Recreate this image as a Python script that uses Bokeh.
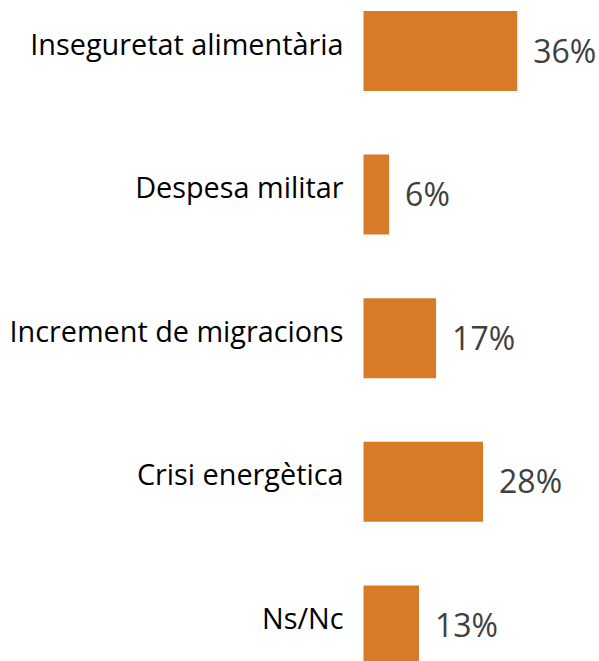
from bokeh.plotting import figure
from bokeh.models import Range1d, ColumnDataSource
from bokeh.core.properties import value
from bokeh.embed import file_html
from bokeh.resources import INLINE

categories = ["Inseguretat alimentària", "Despesa militar", "Increment de migracions",
              "Crisi energètica", "Ns/Nc"]
values = [36, 6, 17, 28, 13]
value_labels = ["36%", "6%", "17%", "28%", "13%"]

positions = list(range(len(categories)))
src = ColumnDataSource(dict(y=positions, v=values, cat=categories, lab=value_labels,
                            zero=[0] * len(categories)))

PX_PER_UNIT = 4.27
W, H = 599, 661
LEFT = 363
x0 = -LEFT / PX_PER_UNIT
x1 = (W - LEFT) / PX_PER_UNIT
step = 143.6
y_top = -50.5 / step
y_bot = (H - 50.5) / step

p = figure(width=W, height=H, x_range=Range1d(x0, x1), y_range=Range1d(y_bot, y_top),
           output_backend="svg", toolbar_location=None, min_border=0,
           x_axis_location=None, y_axis_location=None)
p.grid.visible = False
p.outline_line_color = None

p.hbar(y="y", left=0, right="v", height=80 / step, source=src,
       fill_color="#D77B29", line_color=None)

p.text(x="zero", y="y", text="cat", source=src, x_offset=-20, y_offset=-8,
       text_align="right", text_baseline="alphabetic",
       text_font=value("Open Sans"), text_font_size="28.8px", text_color="#000000")

p.text(x="v", y="y", text="lab", source=src, x_offset=16, y_offset=-1,
       text_align="left", text_baseline="middle",
       text_font=value("Open Sans"), text_font_size="32px", text_color="#404040")

open("out.html", "w").write(file_html(p, INLINE))
